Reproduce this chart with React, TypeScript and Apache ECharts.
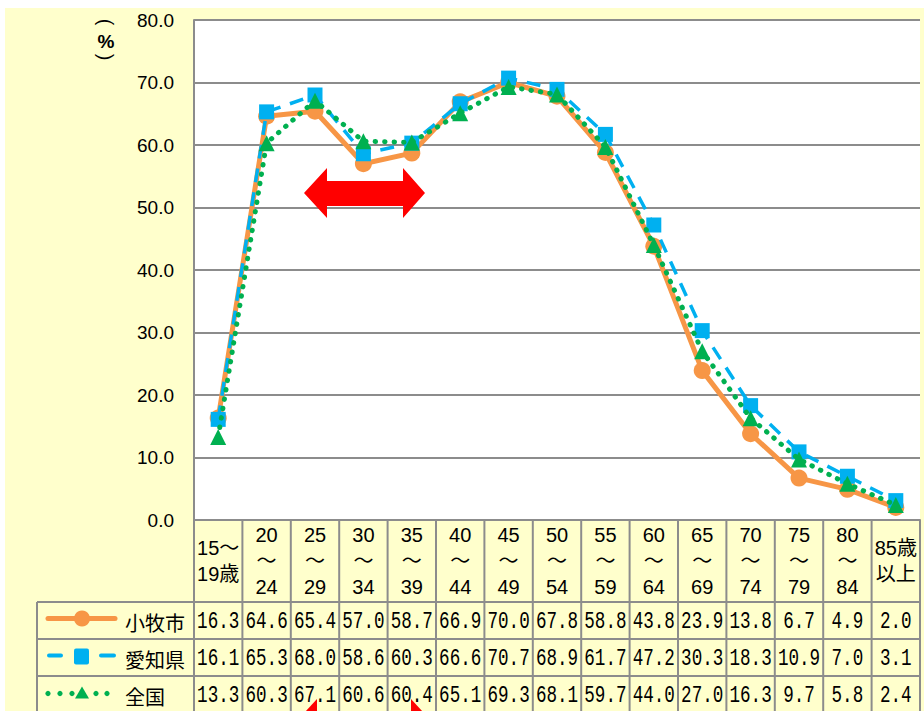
import React, { useEffect, useRef } from "react";
import * as echarts from "echarts";

const categories = [
  "15～\n19歳", "20\n～\n24", "25\n～\n29", "30\n～\n34", "35\n～\n39",
  "40\n～\n44", "45\n～\n49", "50\n～\n54", "55\n～\n59", "60\n～\n64",
  "65\n～\n69", "70\n～\n74", "75\n～\n79", "80\n～\n84", "85歳\n以上",
];
const komaki = [16.3, 64.6, 65.4, 57.0, 58.7, 66.9, 70.0, 67.8, 58.8, 43.8, 23.9, 13.8, 6.7, 4.9, 2.0];
const aichi = [16.1, 65.3, 68.0, 58.6, 60.3, 66.6, 70.7, 68.9, 61.7, 47.2, 30.3, 18.3, 10.9, 7.0, 3.1];
const zenkoku = [13.3, 60.3, 67.1, 60.6, 60.4, 65.1, 69.3, 68.1, 59.7, 44.0, 27.0, 16.3, 9.7, 5.8, 2.4];
const seriesNames = ["小牧市", "愛知県", "全国"];
const yTicks = { min: 0, max: 80, interval: 10 };

const ORANGE = "#F79646";
const BLUE = "#00B0F0";
const GREEN = "#00B050";
const GRAY = "#8C8C8C";
const YELLOW = "#FFFFCC";

export default function App() {
  const ref = useRef<HTMLDivElement>(null);
  useEffect(() => {
    if (!ref.current) return;
    const chart = echarts.init(ref.current, null, { renderer: "svg" });
    const W = 924, H = 711;
    const gridLeft = 194, gridRightX = 920, gridTop = 20, gridBottomY = 520;
    const colW = (gridRightX - gridLeft) / categories.length;
    const headBot = 602, rowH = 37, tableLeft = 37, tableBot = 713;
    const valueRows = [komaki, aichi, zenkoku];

    const graphic: any[] = [];
    graphic.push({ type: "rect", z: -100, shape: { x: 5, y: 8, width: W, height: H }, style: { fill: YELLOW } });
    // column separators
    for (let i = 0; i <= categories.length; i++) {
      const x = gridLeft + i * colW;
      graphic.push({ type: "line", z: 10, shape: { x1: x, y1: gridBottomY, x2: x, y2: tableBot }, style: { stroke: GRAY, lineWidth: 2 } });
    }
    graphic.push({ type: "line", z: 10, shape: { x1: tableLeft, y1: headBot, x2: tableLeft, y2: tableBot }, style: { stroke: GRAY, lineWidth: 2 } });
    for (let r = 0; r < 3; r++) {
      const y = headBot + r * rowH;
      graphic.push({ type: "line", z: 10, shape: { x1: tableLeft, y1: y, x2: gridRightX, y2: y }, style: { stroke: GRAY, lineWidth: 2 } });
    }
    // values
    valueRows.forEach((row, r) => {
      row.forEach((v, i) => {
        graphic.push({
          type: "text", z: 11,
          x: gridLeft + (i + 0.5) * colW,
          y: headBot + (r + 0.5) * rowH + 1,
          scaleX: 0.88, scaleY: 1.15,
          style: { text: v.toFixed(1), fontSize: 20, fontFamily: "Liberation Mono, DejaVu Sans Mono, monospace", fill: "#000", align: "center", verticalAlign: "middle" },
        });
      });
    });
    // legend cells (series keys inside the data table)
    const legendTextX = 125;
    seriesNames.forEach((n, r) => {
      graphic.push({
        type: "text", z: 11, x: legendTextX, y: headBot + (r + 0.5) * rowH + 2,
        style: { text: n, fontSize: 20, fontFamily: "Noto Sans CJK JP", fill: "#000", align: "left", verticalAlign: "middle" },
      });
    });
    const y1 = headBot + 0.5 * rowH - 2;
    graphic.push({ type: "line", z: 11, shape: { x1: 48, y1: y1, x2: 115, y2: y1 }, style: { stroke: ORANGE, lineWidth: 5, lineCap: "round" } });
    graphic.push({ type: "circle", z: 12, shape: { cx: 82, cy: y1, r: 8 }, style: { fill: ORANGE } });
    const y2 = headBot + 1.5 * rowH - 1;
    graphic.push({ type: "line", z: 11, shape: { x1: 49, y1: y2 - 1, x2: 61, y2: y2 - 1 }, style: { stroke: BLUE, lineWidth: 4, lineCap: "round" } });
    graphic.push({ type: "line", z: 11, shape: { x1: 101, y1: y2 - 1, x2: 114, y2: y2 - 1 }, style: { stroke: BLUE, lineWidth: 4, lineCap: "round" } });
    graphic.push({ type: "rect", z: 12, shape: { x: 74, y: y2 - 8, width: 15, height: 16, r: 2 }, style: { fill: BLUE } });
    const y3 = headBot + 2.5 * rowH - 1;
    [48, 60, 72, 96, 107].forEach((cx) => {
      graphic.push({ type: "circle", z: 11, shape: { cx, cy: y3, r: 2.6 }, style: { fill: GREEN } });
    });
    graphic.push({ type: "polygon", z: 12, shape: { points: [[82, y3 - 7], [89, y3 + 5], [75, y3 + 5]] }, style: { fill: GREEN } });
    // (%) axis title
    graphic.push({ type: "text", z: 11, x: 106, y: 22, rotation: -Math.PI / 2, style: { text: "(", fontSize: 20, fontFamily: "Liberation Sans", fill: "#000", align: "center", verticalAlign: "middle" } });
    graphic.push({ type: "text", z: 11, x: 106, y: 41, style: { text: "%", fontSize: 19, fontWeight: "bold", fontFamily: "Liberation Sans", fill: "#000", align: "center", verticalAlign: "middle" } });
    graphic.push({ type: "text", z: 11, x: 106, y: 57, rotation: -Math.PI / 2, style: { text: ")", fontSize: 20, fontFamily: "Liberation Sans", fill: "#000", align: "center", verticalAlign: "middle" } });
    // red double arrow annotation
    graphic.push({
      type: "polygon", z: 20,
      shape: { points: [[304, 193], [327, 168], [327, 181], [403, 181], [403, 168], [425, 193], [403, 218], [403, 206], [327, 206], [327, 218]] },
      style: { fill: "#FF0000" },
    });
    graphic.push({ type: "polygon", z: 20, shape: { points: [[305, 712], [317, 699], [317, 712]] }, style: { fill: "#FF0000" } });
    graphic.push({ type: "polygon", z: 20, shape: { points: [[411, 712], [411, 699], [423, 712]] }, style: { fill: "#FF0000" } });

    const styles = [
      { color: ORANGE, symbol: "circle", size: 17, line: { width: 5, type: "solid" } },
      { color: BLUE, symbol: "rect", size: 15, line: { width: 3.5, type: [14, 10] } },
      { color: GREEN, symbol: "triangle", size: 16, line: { width: 5, type: [0.5, 9], cap: "round" } },
    ];

    chart.setOption({
      animation: false,
      backgroundColor: "#fff",
      grid: { left: gridLeft, right: W - gridRightX, top: gridTop, bottom: H - gridBottomY, show: true, backgroundColor: "#fff", borderWidth: 0 },
      xAxis: {
        type: "category",
        data: categories,
        boundaryGap: true,
        axisLine: { show: true, lineStyle: { color: GRAY, width: 2 } },
        axisTick: { show: false },
        axisLabel: {
          interval: 0, margin: 41, verticalAlign: "middle", lineHeight: 26,
          fontSize: 20, color: "#000", fontFamily: "Liberation Sans, Noto Sans CJK JP",
        },
        splitLine: { show: false },
      },
      yAxis: {
        type: "value",
        min: yTicks.min, max: yTicks.max, interval: yTicks.interval,
        axisLine: { show: true, lineStyle: { color: GRAY, width: 2 } },
        axisTick: { show: false },
        axisLabel: { margin: 20, fontSize: 19, color: "#000", fontFamily: "Liberation Sans", formatter: (v: number) => v.toFixed(1) },
        splitLine: { lineStyle: { color: GRAY, width: 2 } },
      },
      series: seriesNames.map((n, i) => ({
        name: n,
        type: "line",
        data: valueRows[i],
        symbol: styles[i].symbol,
        symbolSize: styles[i].size,
        z: 2 + i,
        itemStyle: { color: styles[i].color },
        lineStyle: { color: styles[i].color, ...styles[i].line },
      })),
      graphic,
    });
    return () => chart.dispose();
  }, []);
  return <div ref={ref} style={{ position: "absolute", left: 0, top: 0, width: 924, height: 711 }} />;
}
